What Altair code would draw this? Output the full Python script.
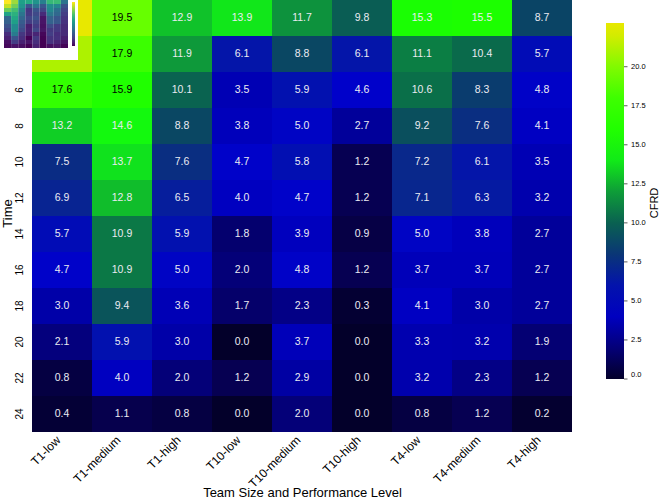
import altair as alt
import pandas as pd

# Team configurations along the x axis, sampling times down the y axis
groups = ["T1-low", "T1-medium", "T1-high", "T10-low", "T10-medium",
          "T10-high", "T4-low", "T4-medium", "T4-high"]
times = [2, 4, 6, 8, 10, 12, 14, 16, 18, 20, 22, 24]

# CFRD per time step for each configuration
t1_low = [22.8, 20.8, 17.6, 13.2, 7.5, 6.9, 5.7, 4.7, 3.0, 2.1, 0.8, 0.4]
t1_medium = [19.5, 17.9, 15.9, 14.6, 13.7, 12.8, 10.9, 10.9, 9.4, 5.9, 4.0, 1.1]
t1_high = [12.9, 11.9, 10.1, 8.8, 7.6, 6.5, 5.9, 5.0, 3.6, 3.0, 2.0, 0.8]
t10_low = [13.9, 6.1, 3.5, 3.8, 4.7, 4.0, 1.8, 2.0, 1.7, 0.0, 1.2, 0.0]
t10_medium = [11.7, 8.8, 5.9, 5.0, 5.8, 4.7, 3.9, 4.8, 2.3, 3.7, 2.9, 2.0]
t10_high = [9.8, 6.1, 4.6, 2.7, 1.2, 1.2, 0.9, 1.2, 0.3, 0.0, 0.0, 0.0]
t4_low = [15.3, 11.1, 10.6, 9.2, 7.2, 7.1, 5.0, 3.7, 4.1, 3.3, 3.2, 0.8]
t4_medium = [15.5, 10.4, 8.3, 7.6, 6.1, 6.3, 3.8, 3.7, 3.0, 3.2, 2.3, 1.2]
t4_high = [8.7, 5.7, 4.8, 4.1, 3.5, 3.2, 2.7, 2.7, 2.7, 1.9, 1.2, 0.2]

columns = [t1_low, t1_medium, t1_high, t10_low, t10_medium,
           t10_high, t4_low, t4_medium, t4_high]

# Colour ramp: navy -> blue -> teal -> green -> lime -> yellow
cmap_stops = [0.0, 1.0, 2.0, 3.0, 4.5, 5.5, 6.5, 7.5, 8.5, 9.5, 10.5,
              11.5, 12.5, 13.5, 14.5, 15.5, 17.5, 19.5, 21.0, 22.8]
cmap_colors = ["#03002a", "#060048", "#040078", "#0000a8", "#0000cc",
               "#0008bc", "#061e9c", "#0a2c84", "#0a4068", "#0a5658",
               "#0a6c4a", "#0c8a40", "#10b030", "#10dc20", "#12f810",
               "#1cff00", "#30ff00", "#66ff00", "#b8f000", "#e8e800"]
vmax = 22.8
legend_ticks = [0.0, 2.5, 5.0, 7.5, 10.0, 12.5, 15.0, 17.5, 20.0]

records = [
    {"group": g, "time": t, "v": v}
    for g, col in zip(groups, columns)
    for t, v in zip(times, col)
]
df = pd.DataFrame(records)

FONT = "Liberation Sans"
base = alt.Chart(df)

# Colour bar geometry (plot coordinates)
CBAR_X, CBAR_TOP, CBAR_LEN, CBAR_W = 574, 23, 356, 18

x_main = alt.X(
    "group:N", sort=groups, title="Team Size and Performance Level",
    scale=alt.Scale(paddingInner=0, paddingOuter=0),
    axis=alt.Axis(labelAngle=315, labelAlign="right", labelBaseline="top",
                  labelPadding=2, labelOffset=-7, labelFontSize=12,
                  titleFontSize=13, titleFontWeight="normal",
                  titleX=270, titleY=60, titleBaseline="middle",
                  domain=False, ticks=False, zindex=0),
)
y_main = alt.Y(
    "time:O", sort=times, title="Time",
    scale=alt.Scale(paddingInner=0, paddingOuter=0),
    axis=alt.Axis(labelAngle=270, labelAlign="center", labelBaseline="bottom",
                  labelPadding=8, labelFontSize=10,
                  titleFontSize=13, titleFontWeight="normal",
                  titleAngle=270, titleX=-25, titleY=213,
                  titleAlign="center", titleBaseline="middle",
                  domain=False, ticks=False, zindex=0),
)

heat = base.mark_rect().encode(
    x=x_main,
    y=y_main,
    color=alt.Color(
        "v:Q", title="",
        scale=alt.Scale(domain=cmap_stops, range=cmap_colors, interpolate="rgb"),
        legend=alt.Legend(orient="none", legendX=CBAR_X, legendY=CBAR_TOP,
                          direction="vertical", gradientLength=CBAR_LEN,
                          gradientThickness=CBAR_W, gradientStrokeWidth=0,
                          values=legend_ticks, format=".1f",
                          labelFontSize=7.5, labelOffset=7,
                          labelBaseline="middle"),
    ),
)

annot = base.mark_text(fontSize=10.5, font=FONT).encode(
    x=alt.X("group:N", sort=groups),
    y=alt.Y("time:O", sort=times),
    text=alt.Text("v:Q", format=".1f"),
    color=alt.condition(alt.datum.v >= 15.7, alt.value("black"),
                        alt.value("#ebebf2")),
)

# Colour bar caption, reading upwards beside the bar
cbar_title = alt.Chart(pd.DataFrame({"label": ["CFRD"]})).mark_text(
    angle=270, fontSize=11, font=FONT, color="black",
    align="center", baseline="middle",
).encode(x=alt.value(623), y=alt.value(203), text="label:N")

main = alt.layer(heat, annot, cbar_title)

# Small tick marks on the right edge of the colour bar
cbar_ticks = alt.Chart(pd.DataFrame({"t": legend_ticks})).mark_rule(
    color="#333333", strokeWidth=0.8
).encode(
    y=alt.Y("t:Q", axis=None,
            scale=alt.Scale(domain=[0, vmax],
                            range=[CBAR_TOP + CBAR_LEN, CBAR_TOP])),
    x=alt.value(CBAR_X + CBAR_W),
    x2=alt.value(CBAR_X + CBAR_W + 3.5),
)

# Thumbnail panel in the top-left corner
panel = alt.Chart(pd.DataFrame({"k": [0]})).mark_rect(color="white").encode(
    x=alt.value(-32), x2=alt.value(46), y=alt.value(0), y2=alt.value(60)
)
mini = base.mark_rect().encode(
    x=alt.X("group:N", sort=groups, axis=None,
            scale=alt.Scale(range=[-28, 36], paddingInner=0, paddingOuter=0)),
    y=alt.Y("time:O", sort=times, axis=None,
            scale=alt.Scale(range=[0, 48], paddingInner=0, paddingOuter=0)),
    color=alt.Color(
        "v:Q", title="",
        scale=alt.Scale(scheme="viridis", domain=[0, vmax]),
        legend=alt.Legend(orient="none", legendX=40, legendY=2,
                          direction="vertical", gradientLength=44,
                          gradientThickness=3, gradientStrokeWidth=0,
                          labelOpacity=0),
    ),
)
inset = alt.layer(panel, mini)

chart = (
    alt.layer(main, cbar_ticks, inset)
    .resolve_scale(x="independent", y="independent", color="independent")
    .properties(
        width=540, height=432,
        autosize=alt.AutoSizeParams(type="none"),
        padding={"left": 32, "top": 0, "right": 88, "bottom": 67},
    )
    .configure(font=FONT)
    .configure_view(strokeWidth=0)
    .configure_axis(labelColor="black", titleColor="black")
    .configure_legend(labelColor="black", titleColor="black")
)

chart.save("out.html", embed_options={"renderer": "svg", "actions": False})
